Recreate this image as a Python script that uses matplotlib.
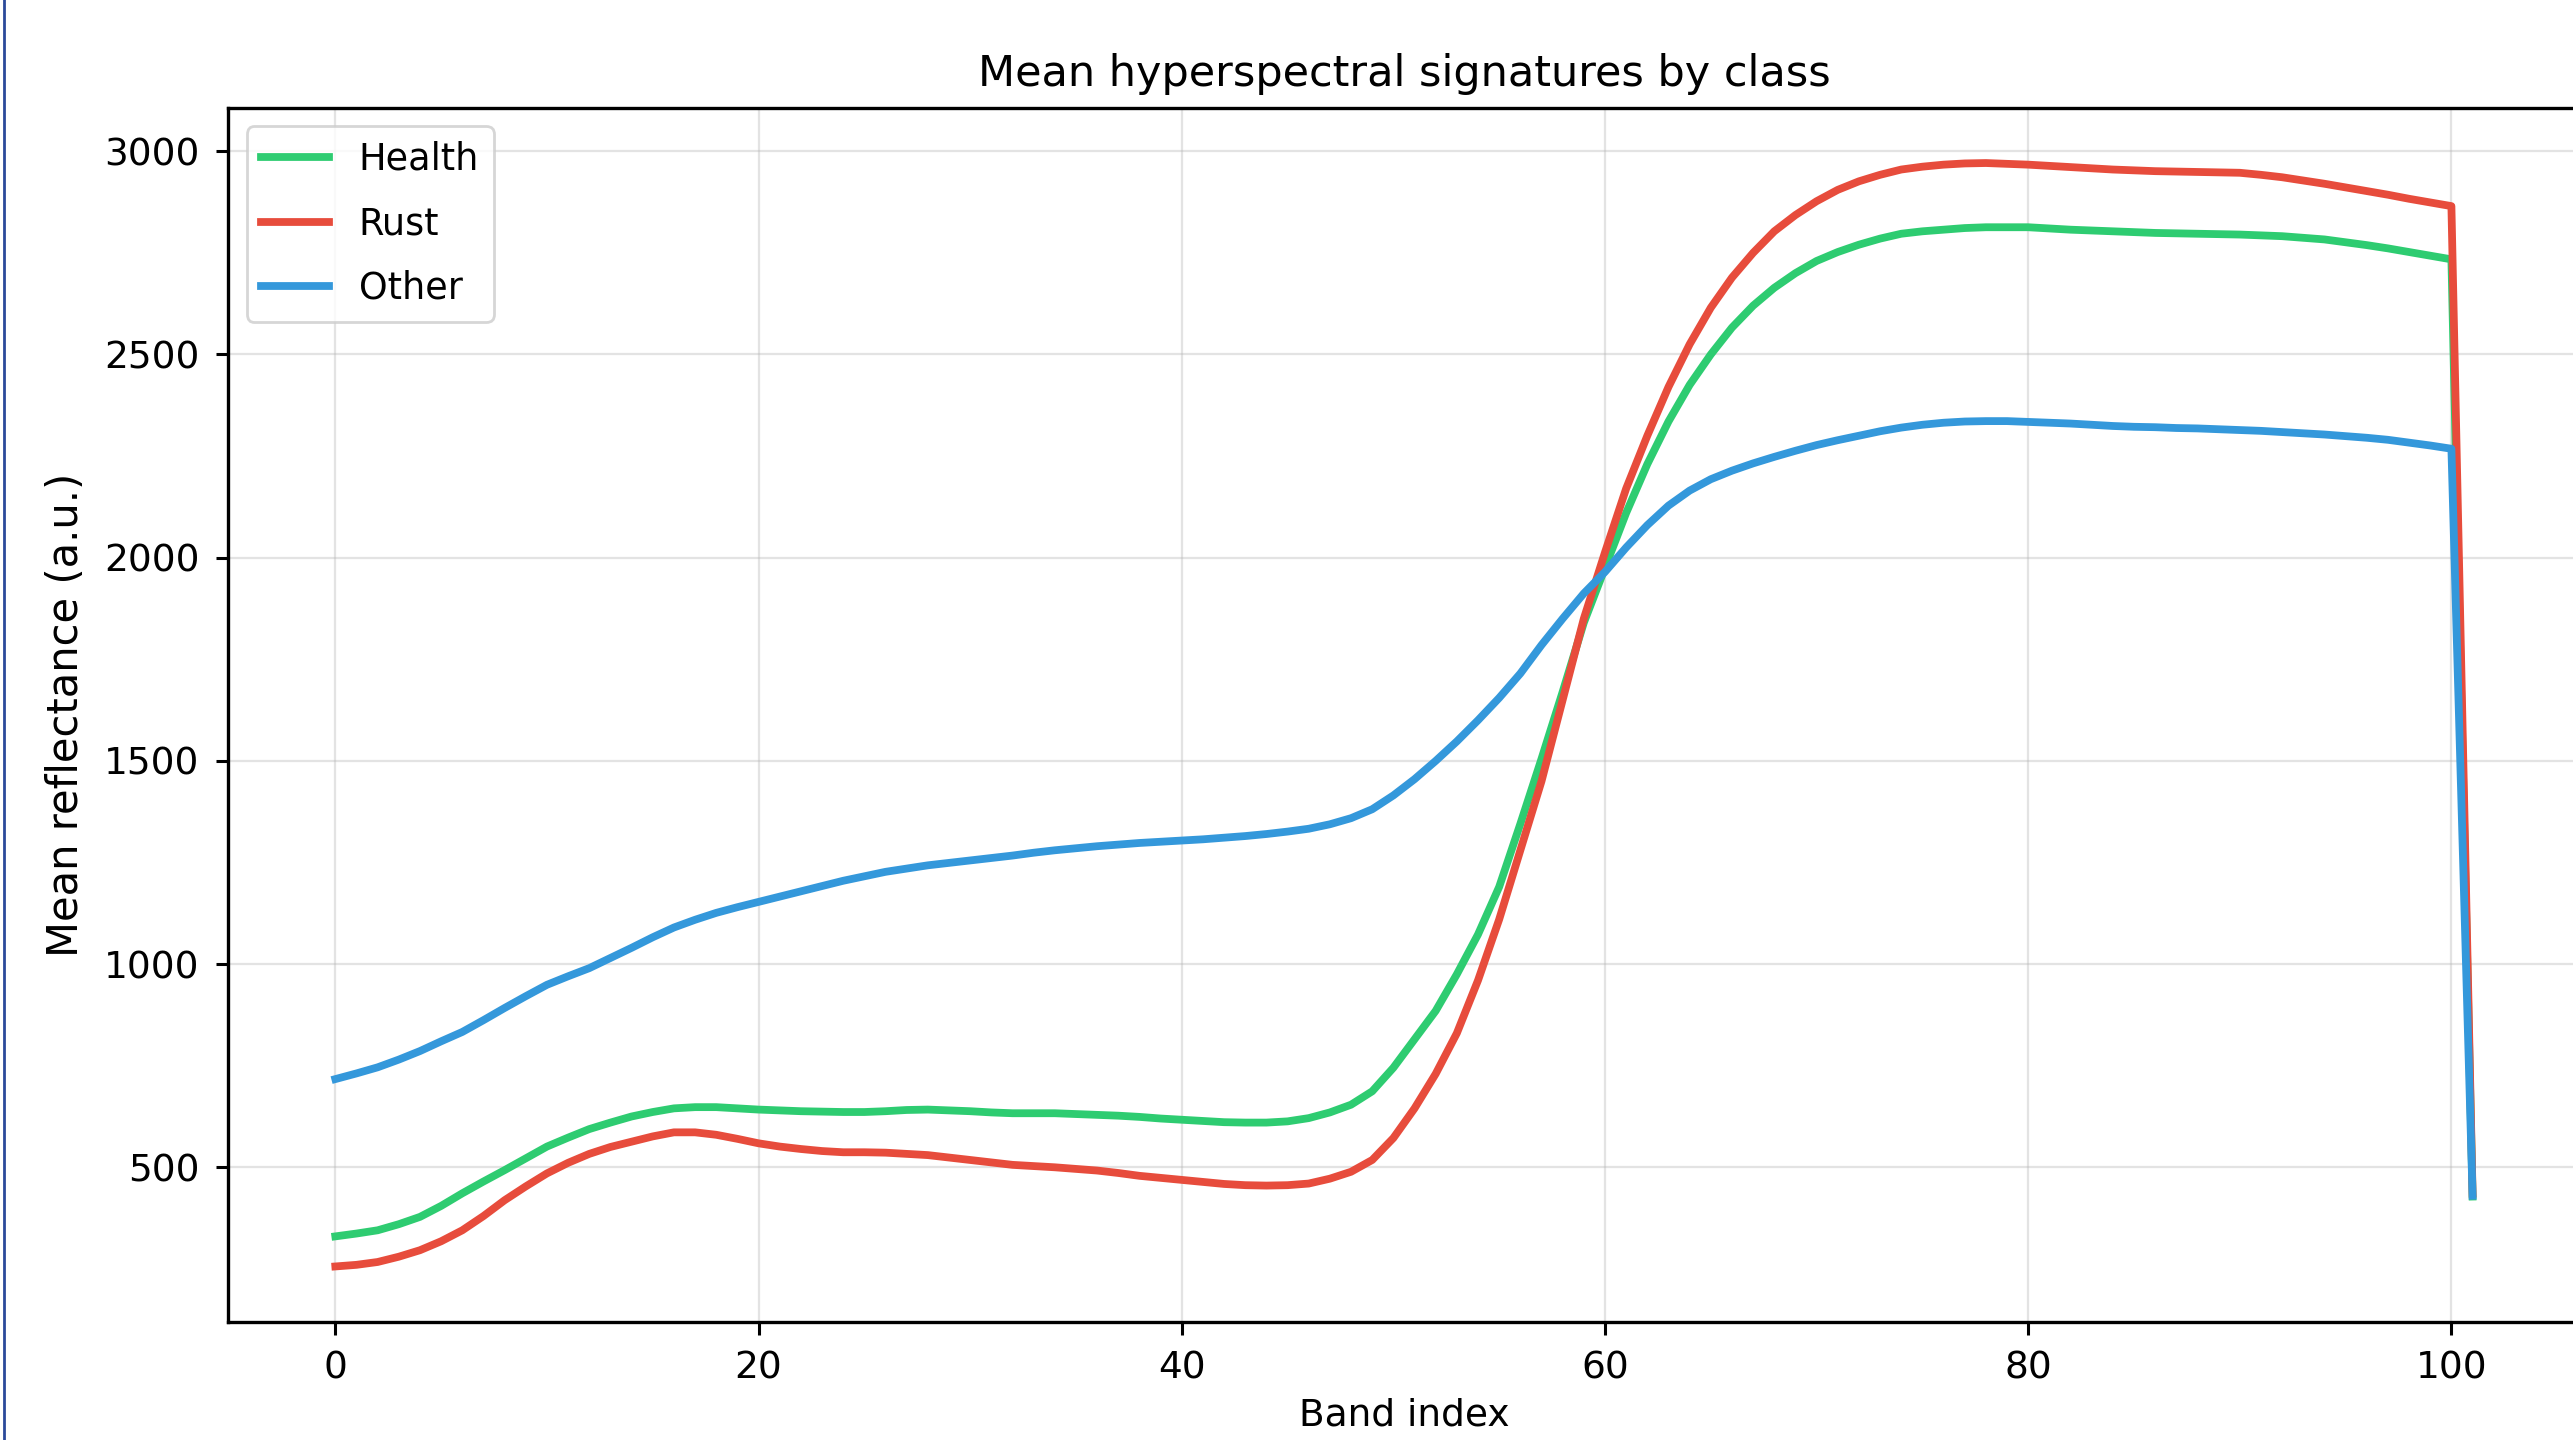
import numpy as np
import matplotlib
matplotlib.use("Agg")
import matplotlib.pyplot as plt
from matplotlib.lines import Line2D

# band index 0..101
bands = np.arange(102)

health = [
    330, 337, 345, 360, 378, 405, 436, 465, 493, 522,
    551, 573, 594, 610, 625, 636, 645, 648, 648, 645,
    642, 640, 638, 637, 636, 636, 638, 641, 642, 640,
    638, 635, 633, 633, 633, 631, 629, 627, 624, 620,
    617, 614, 611, 610, 610, 613, 621, 635, 654, 687,
    745, 815, 885, 975, 1073, 1190, 1345, 1505, 1670, 1840,
    1975, 2110, 2230, 2335, 2425, 2500, 2566, 2620, 2664, 2700,
    2730, 2752, 2770, 2785, 2797, 2803, 2807, 2811, 2813, 2813,
    2813, 2810, 2807, 2805, 2803, 2801, 2799, 2798, 2797, 2796,
    2795, 2793, 2791, 2787, 2783, 2776, 2769, 2761, 2752, 2743,
    2734, 428,
]

rust = [
    256, 260, 267, 280, 296, 318, 345, 380, 419, 453,
    485, 511, 533, 550, 563, 576, 586, 586, 580, 570,
    559, 551, 545, 540, 537, 537, 536, 533, 530, 524,
    518, 512, 506, 503, 500, 496, 492, 486, 479, 474,
    469, 464, 459, 456, 455, 456, 460, 472, 489, 518,
    572, 645, 730, 830, 960, 1110, 1280, 1450, 1650, 1850,
    2013, 2170, 2300, 2420, 2525, 2615, 2689, 2750, 2803, 2843,
    2877, 2905, 2926, 2942, 2955, 2962, 2967, 2970, 2971, 2969,
    2967, 2964, 2961, 2958, 2955, 2953, 2951, 2950, 2949, 2948,
    2947, 2942, 2936, 2928, 2920, 2911, 2902, 2893, 2883, 2874,
    2865, 435,
]

other = [
    717, 731, 746, 765, 786, 810, 833, 862, 892, 921,
    949, 970, 990, 1015, 1040, 1066, 1090, 1109, 1126, 1140,
    1153, 1166, 1179, 1192, 1205, 1216, 1227, 1235, 1243, 1249,
    1255, 1261, 1267, 1274, 1280, 1285, 1290, 1294, 1298, 1301,
    1304, 1307, 1311, 1315, 1320, 1326, 1333, 1344, 1359, 1381,
    1415, 1455, 1500, 1548, 1600, 1655, 1715, 1785, 1850, 1912,
    1965, 2025, 2080, 2128, 2165, 2193, 2214, 2232, 2248, 2263,
    2277, 2289, 2300, 2311, 2320, 2327, 2332, 2335, 2336, 2336,
    2334, 2332, 2330, 2327, 2324, 2322, 2321, 2319, 2318, 2316,
    2314, 2312, 2309, 2306, 2303, 2299, 2295, 2290, 2283, 2276,
    2268, 430,
]

labels = ["Health", "Rust", "Other"]
colors = ["#2ecc71", "#e74c3c", "#3498db"]

plt.rcParams["font.family"] = "DejaVu Sans"

fig = plt.figure(figsize=(12.865, 7.2), dpi=200)
ax = fig.add_axes([0.0888, 0.0822, 0.9137, 0.8429])

for vals, lab, col in zip([health, rust, other], labels, colors):
    ax.plot(bands, vals, color=col, linewidth=2.8, label=lab)

ax.set_title("Mean hyperspectral signatures by class", fontsize=15.5, pad=8)
ax.set_xlabel("Band index", fontsize=13.5, labelpad=4)
ax.set_ylabel("Mean reflectance (a.u.)", fontsize=15, labelpad=6)
ax.grid(True, color="#b0b0b0", alpha=0.35, linewidth=0.8)
ax.tick_params(labelsize=13.5, width=1.1, length=4.5, pad=6)
for sp in ax.spines.values():
    sp.set_linewidth(1.2)
leg = ax.legend(loc="upper left", fontsize=13.2, labelspacing=0.75,
                handlelength=1.85)
for h in leg.get_lines():
    h.set_linewidth(2.8)

# thin blue frame on the left edge of the screenshot
fig.add_artist(Line2D([0.0014, 0.0014], [0, 1], transform=fig.transFigure,
                      color="#2b4a9a", linewidth=1.0))

fig.savefig("out.png", dpi=200)
